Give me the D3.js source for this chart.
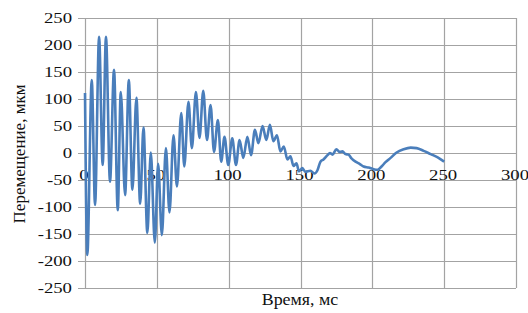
<!DOCTYPE html>
<html>
<head>
<meta charset="utf-8">
<script src="https://cdn.jsdelivr.net/npm/d3@7"></script>
<style>
  body { margin: 0; background: #fff; }
  text { font-family: "Liberation Serif", "Times New Roman", serif; fill: #111; }
</style>
</head>
<body>
<svg width="528" height="313"></svg>
<script>
// time, ms (peaks and troughs)
var timeMs = [0, 1.6, 4.7, 7.0, 9.8, 12.3, 14.6, 17.4, 20.2, 22.8, 24.9, 27.9, 30.5, 33.0, 35.8, 38.4,
  40.7, 43.4, 45.8, 48.6, 50.9, 53.5, 56.3, 58.8, 61.6, 64.0, 67.0, 69.1, 72.0, 74.4, 77.2, 79.7,
  82.3, 84.9, 87.4, 89.8, 92.5, 94.8, 97.1, 99.7, 102.5, 105.1, 107.6, 110.2, 113.0, 115.6, 118.3,
  120.7, 123.6, 126.2, 128.7, 131.1, 133.6, 136.0, 138.4, 140.9, 143.0, 145.1, 147.2, 148.9, 151.3,
  153.4, 156.9, 159.7, 161.8, 163.9, 166.0, 168.8, 170.5, 172.3, 175.0, 177.1, 179.2, 181.3, 183.4,
  185.5, 188.3, 191.1, 193.9, 197.4, 200.9, 203.7, 206.4, 209.2, 212.7, 216.9, 221.8, 226.7, 230.8,
  235.7, 240.6, 245.5, 250];
// displacement, um
var dispUm = [111, -189, 135, -96, 215, -22, 215, -53, 154, -106, 113, -78, 135, -68, 102, -94,
  47, -148, 1, -166, -20, -152, 9, -110, 33, -62, 74, -25, 95, 9, 113, 28,
  115, 24, 89, 2, 61, -16, 30, -22, 27, -22, 24, -9, 30, -4, 43,
  18, 50, 24, 52, 22, 33, 3, 12, -12, -6, -24, -19, -34, -28,
  -35, -33, -38, -32, -16, -12, -4, 0, -3, 7, 2, 3, -2, -3,
  -10, -16, -20, -25, -27, -30, -31, -25, -17, -9, 1, 7, 10, 9,
  4, -2, -8, -16];
var xTicks = [0, 50, 100, 150, 200, 250, 300];
var yTicks = [-250, -200, -150, -100, -50, 0, 50, 100, 150, 200, 250];

var data = timeMs.map(function (t, i) { return { t: t, v: dispUm[i] }; });

var svg = d3.select('svg');
var x = d3.scaleLinear().domain([0, 300]).range([85, 516]);
var y = d3.scaleLinear().domain([-250, 250]).range([288, 18]);
var stretch = 1.25; // text in the picture is wider than it is tall

// grid
var grid = svg.append('g').attr('stroke', '#a3a3a3').attr('stroke-width', 1.2);
grid.selectAll('line.h').data(yTicks).enter().append('line')
    .attr('x1', x(0) - 7).attr('x2', x(300))
    .attr('y1', function (d) { return Math.round(y(d)) + 0.5; })
    .attr('y2', function (d) { return Math.round(y(d)) + 0.5; });
grid.selectAll('line.v').data(xTicks).enter().append('line')
    .attr('y1', y(250)).attr('y2', y(-250))
    .attr('x1', function (d) { return Math.round(x(d)) + 0.5; })
    .attr('x2', function (d) { return Math.round(x(d)) + 0.5; });

// y tick labels
svg.append('g').selectAll('text').data(yTicks).enter().append('text')
    .attr('text-anchor', 'end')
    .attr('dy', '0.35em')
    .attr('font-size', 15)
    .attr('transform', function (d) { return 'translate(72,' + y(d) + ') scale(' + stretch + ',1)'; })
    .text(function (d) { return d; });

// x tick labels, sitting under the zero line
svg.append('g').selectAll('text').data(xTicks).enter().append('text')
    .attr('text-anchor', 'middle')
    .attr('font-size', 15)
    .attr('transform', function (d) { return 'translate(' + (x(d) - 1) + ',180) scale(' + stretch + ',1)'; })
    .text(function (d) { return d; });

// series
var line = d3.line()
    .x(function (d) { return x(d.t); })
    .y(function (d) { return y(d.v); })
    .curve(d3.curveMonotoneX);

svg.append('path')
    .datum(data)
    .attr('fill', 'none')
    .attr('stroke', '#4a7ebb')
    .attr('stroke-width', 2.6)
    .attr('stroke-linejoin', 'round')
    .attr('d', line);

// axis titles
svg.append('text')
    .attr('text-anchor', 'middle')
    .attr('font-size', 16)
    .attr('transform', 'translate(300,305) scale(1.12,1)')
    .text('Время, мс');

svg.append('text')
    .attr('text-anchor', 'middle')
    .attr('font-size', 17)
    .attr('transform', 'translate(25,154) rotate(-90)')
    .text('Перемещение, мкм');
</script>
</body>
</html>
